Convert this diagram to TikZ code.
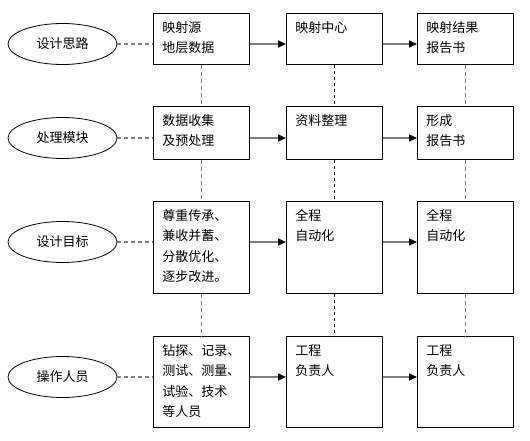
\documentclass[tikz,border=0pt]{standalone}
\usepackage{fontspec}
\setmainfont{Noto Sans CJK SC}
\usetikzlibrary{arrows.meta,shapes.geometric}
\newcommand{\boxtxt}[2]{\parbox[c][#1][t]{78pt}{#2}}
\begin{document}
\begin{tikzpicture}[x=1pt,y=-1pt,
  font=\fontsize{13}{20.5}\selectfont,
  box/.style={draw, line width=0.8pt, inner xsep=9pt, inner ysep=8pt, anchor=north west},
  oval/.style={draw, ellipse, line width=0.8pt, minimum width=109pt, minimum height=41pt, inner sep=0pt},
  link/.style={draw=gray, line width=1.6pt, dash pattern=on 4pt off 3pt},
  vlink/.style={draw=gray, line width=1.4pt, dash pattern=on 4pt off 3pt},
  vthin/.style={draw=black, line width=0.6pt, dash pattern=on 3pt off 3pt},
  flow/.style={draw=gray, line width=1.6pt, -{Triangle[length=8pt,width=7pt,black]}}]
\path[use as bounding box] (0,0) rectangle (530,441);
% row 1
\node[oval] (e1) at (62.5,44) {设计思路};
\node[box] (b11) at (153,13) {\boxtxt{35pt}{映射源\\地层数据}};
\node[box] (b12) at (286,13) {\boxtxt{35pt}{映射中心}};
\node[box] (b13) at (417,13) {\boxtxt{35pt}{映射结果\\报告书}};
% row 2
\node[oval] (e2) at (62.5,138) {处理模块};
\node[box] (b21) at (153,106) {\boxtxt{37pt}{数据收集\\及预处理}};
\node[box] (b22) at (286,106) {\boxtxt{37pt}{资料整理}};
\node[box] (b23) at (417,106) {\boxtxt{37pt}{形成\\报告书}};
% row 3
\node[oval] (e3) at (62.5,242) {设计目标};
\node[box] (b31) at (153,201) {\boxtxt{76pt}{尊重传承、\\兼收并蓄、\\分散优化、\\逐步改进。}};
\node[box] (b32) at (286,201) {\boxtxt{76pt}{全程\\自动化}};
\node[box] (b33) at (417,201) {\boxtxt{76pt}{全程\\自动化}};
% row 4
\node[oval] (e4) at (62.5,377) {操作人员};
\node[box] (b41) at (153,336) {\boxtxt{75pt}{钻探、记录、\\测试、测量、\\试验、技术\\等人员}};
\node[box] (b42) at (286,336) {\boxtxt{75pt}{工程\\负责人}};
\node[box] (b43) at (417,336) {\boxtxt{75pt}{工程\\负责人}};
% horizontal links
\foreach \r in {1,2,3,4}{
  \draw[link] (e\r.east) -- (b\r1.west |- e\r.east);
  \draw[flow] (b\r1.east |- e\r.east) -- (b\r2.west |- e\r.east);
  \draw[flow] (b\r2.east |- e\r.east) -- (b\r3.west |- e\r.east);
}
% vertical links
\foreach \a/\b in {1/2,2/3,3/4}{
  \draw[vlink] (b\a1.south) -- (b\b1.north);
  \draw[vthin] (b\a2.south) -- (b\b2.north);
  \draw[vlink] (b\a3.south) -- (b\b3.north);
}
\end{tikzpicture}
\end{document}
